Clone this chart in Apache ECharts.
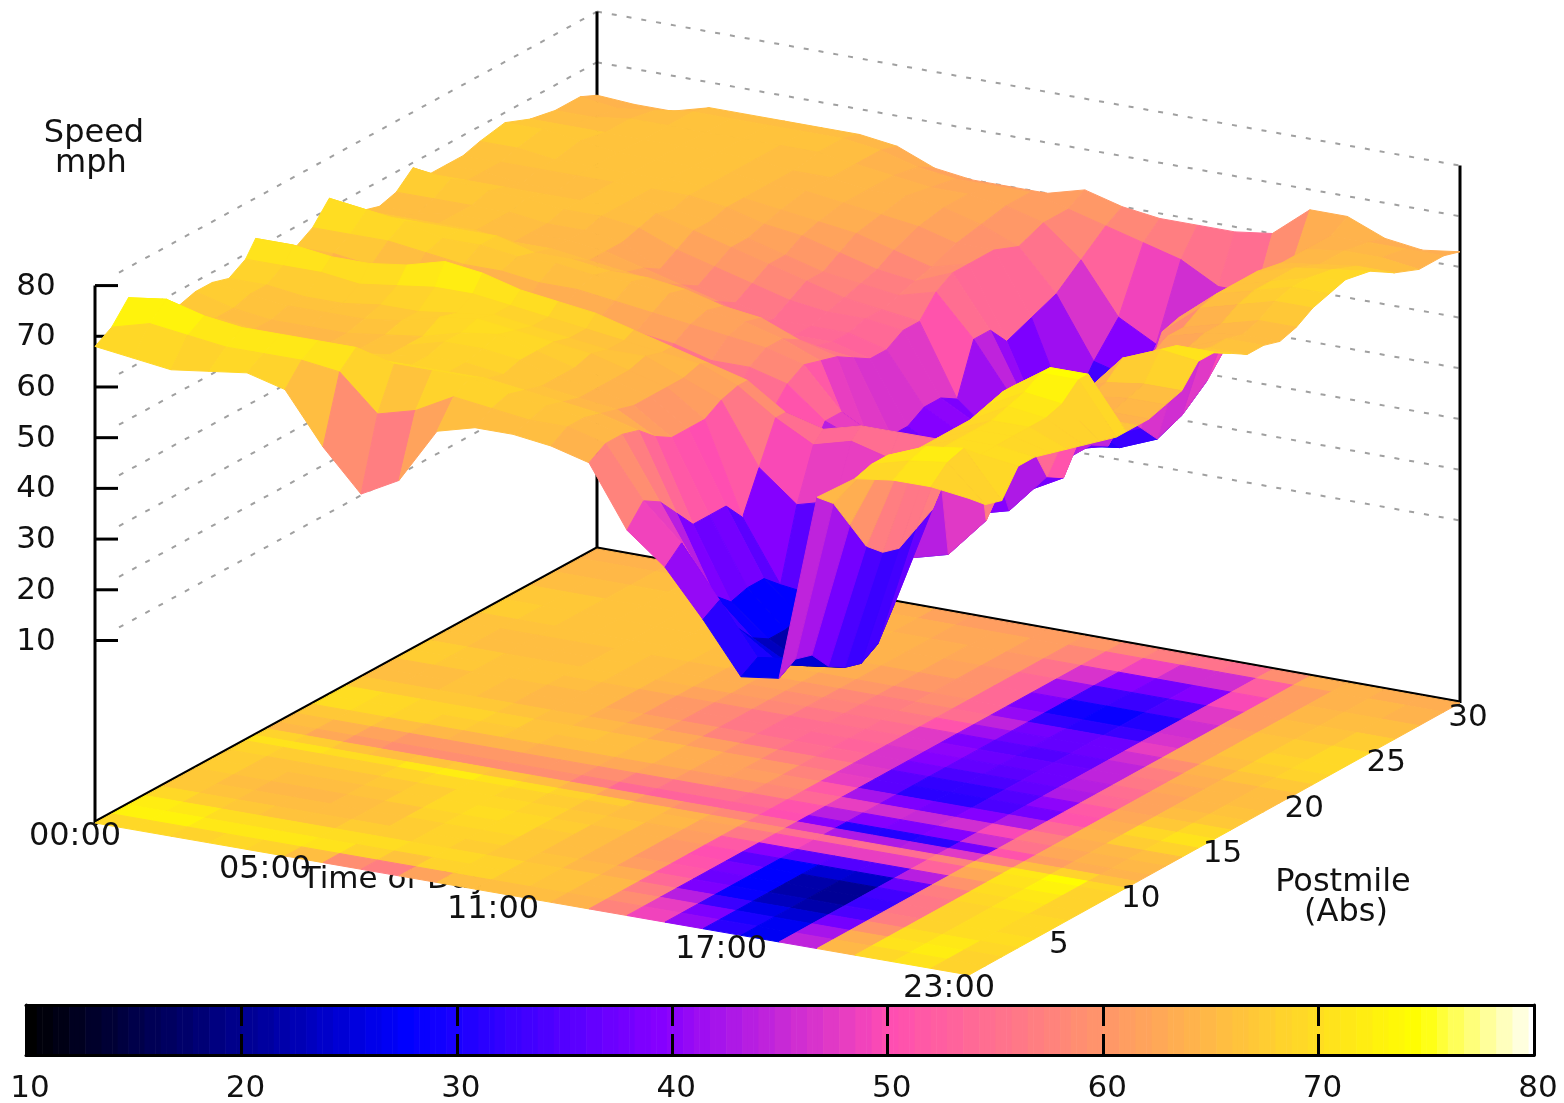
<!DOCTYPE html>
<html><head><meta charset="utf-8">
<style>html,body{margin:0;padding:0;background:#fff}#c{width:1564px;height:1103px}</style>
<script src="https://cdn.jsdelivr.net/npm/echarts@6/dist/echarts.min.js"></script>
</head><body><div id="c"></div>
<script>
const timeHours=[0,1,2,3,4,5,6,7,8,9,10,11,12,13,14,15,16,17,18,19,20,21,22,23];
const postmiles=[0,1,2,3,4,5,6,7,8,9,9.6,10.3,11,12,13,14,15,16,17,18,19,20,21,22,23,24.5,26,27.5,29,30];
const speeds=[
[68,67,66,67,68,66,56,48,52,63,65,65,64,62,50,44,35,25,26,63,68,69,69,68],
[70,72,71,70,70,70,69,62,64,68,67,66,66,64,54,47,37,27,28,60,69,71,72,65],
[74,75,73,72,72,72,72,70,70,70,68,67,66,64,52,40,30,25,27,54,69,72,73,64],
[70,70,68,67,67,68,68,68,68,68,67,66,65,63,48,33,26,22,23,48,67,70,70,69],
[68,67,66,66,65,66,67,68,68,67,66,65,64,60,44,30,24,20,21,45,67,70,70,69],
[67,66,65,65,65,66,67,69,69,68,66,65,63,58,44,31,24,19,20,44,67,70,70,68],
[68,66,65,65,65,66,67,69,70,68,66,65,63,58,44,31,25,20,22,46,67,70,70,67],
[68,67,66,66,66,67,69,70,69,68,67,65,63,58,40,28,27,26,28,48,67,71,70,66],
[67,67,66,66,67,67,68,69,68,67,66,66,63,60,48,42,44,42,44,54,68,72,71,65],
[69,69,69,68,69,70,70,69,68,67,66,65,64,61,56,52,54,52,54,60,69,74,74,64],
[72,72,71,71,72,74,73,71,70,69,67,65,63,61,56,54,56,56,56,60,69,74,74,64],
[65,64,62,60,60,60,60,60,60,56,54,54,54,54,50,30,30,30,32,40,58,62,64,64],
[66,64,60,58,58,58,58,58,58,54,52,52,53,52,44,32,31,30,34,46,60,63,64,64],
[66,66,65,63,62,62,62,62,62,61,60,58,58,56,50,47,47,46,48,54,62,64,65,65],
[68,68,68,67,66,66,65,65,64,63,62,61,60,58,50,46,44,44,46,50,62,65,66,66],
[72,71,70,68,68,67,67,66,66,65,63,62,60,57,40,33,30,32,34,42,60,68,71,70],
[68,68,68,68,68,66,66,65,65,64,62,61,58,56,38,31,30,33,36,40,60,66,70,70],
[66,66,66,66,65,65,64,63,62,60,58,56,55,54,40,34,32,33,38,46,60,64,67,68],
[65,65,66,66,65,65,64,62,60,58,55,54,54,52,40,36,34,36,38,48,60,64,66,66],
[66,66,66,66,65,65,64,60,58,56,54,54,54,52,42,38,36,36,38,50,60,63,66,66],
[69,68,67,67,66,66,65,62,60,58,56,55,55,54,42,38,36,36,38,52,62,64,65,65],
[66,66,66,66,66,66,66,64,62,60,58,56,55,54,40,34,33,34,36,50,62,64,66,66],
[66,66,65,65,66,66,65,64,62,60,58,57,56,58,50,40,40,38,40,58,64,66,68,68],
[66,66,66,66,66,66,66,65,63,62,60,58,57,60,50,36,34,33,36,59,65,67,69,69],
[67,67,66,66,66,66,66,65,64,63,62,60,58,60,46,30,28,29,32,58,65,67,69,70],
[68,68,67,66,66,66,66,65,65,64,63,62,60,60,48,30,29,28,34,58,65,67,68,69],
[66,66,66,66,66,66,66,65,65,64,64,63,61,58,50,38,36,36,38,58,64,65,66,66],
[65,65,66,66,66,66,66,66,65,64,63,63,62,60,54,44,40,40,44,58,64,65,65,64],
[65,64,65,66,66,66,66,66,65,63,62,62,62,60,58,56,54,50,50,58,64,64,64,64],
[63.5,63,63,65,65,65,65,65,64,61,60,60,60,62,60,59,59,59,60,66,66,63,62,63]
];
const zTicks=[10,20,30,40,50,60,70,80];
const timeTicks=[[0,'00:00'],[5,'05:00'],[11,'11:00'],[17,'17:00'],[23,'23:00']];
const postmileTicks=[5,10,15,20,25,30];

// view of the 3D box (screen plane units)
const FLOOR=-26, ZS=5.07, FONT='"DejaVu Sans"';
const CL=[95,823],CB=[597,549],CR=[1460,703],CF=[969,975];
function proj(t,p,z){
  const u=t/23,v=p/30;
  const x=(1-u)*(1-v)*CL[0]+u*(1-v)*CF[0]+u*v*CR[0]+(1-u)*v*CB[0];
  const y=(1-u)*(1-v)*CL[1]+u*(1-v)*CF[1]+u*v*CR[1]+(1-u)*v*CB[1];
  return [x,y-(z-FLOOR)*ZS];
}
function palette(v){
  const n=96; let x=Math.round((v-10)/70*n)/n;
  const c=a=>Math.round(255*Math.max(0,Math.min(1,a)));
  const r=x/0.32-0.78125;
  const g=2*x-0.84;
  let b; if(x<0.25)b=4*x; else if(x<0.42)b=1; else if(x<0.92)b=-2*x+1.84; else b=x/0.08-11.5;
  return 'rgb('+c(r)+','+c(g)+','+c(b)+')';
}
const cells=[];
for(let j=postmiles.length-2;j>=0;j--)for(let i=0;i<timeHours.length-1;i++)cells.push([i,j]);
function cellItem(flat){
  return function(params,api){
    const i=api.value(0),j=api.value(1);
    const corner=[[i,j],[i+1,j],[i+1,j+1],[i,j+1]];
    let sum=0;
    const pts=corner.map(c=>{
      const z=speeds[c[1]][c[0]]; sum+=z;
      return api.coord(proj(timeHours[c[0]],postmiles[c[1]],flat?FLOOR:z));
    });
    const col=palette(sum/4);
    return {type:'polygon',shape:{points:pts},style:{fill:col,stroke:col,lineWidth:1}};
  };
}
const scr={xAxisIndex:0,yAxisIndex:0,coordinateSystem:'cartesian2d',silent:true,animation:false};
function lineEl(api,a,b,style){
  const p=api.coord(a),q=api.coord(b);
  return {type:'line',shape:{x1:p[0],y1:p[1],x2:q[0],y2:q[1]},style:style};
}
const gridStyle={stroke:'#a0a0a0',lineWidth:2,lineDash:[5,10]};
const boxStyle={stroke:'#000',lineWidth:3};
const edgeStyle={stroke:'#000',lineWidth:5};
function textEl(api,pos,txt,size){
  const p=api.coord(pos);
  return {type:'text',x:p[0],y:p[1],style:{text:txt,fill:'#111',font:(size||31)+'px '+FONT,align:'center',verticalAlign:'middle'}};
}
const rampLevels=[];for(let v=10;v<80;v+=0.25)rampLevels.push(v);
const barAxis={gridIndex:1,type:'value',min:10,max:80,interval:10,z:6,
     axisLine:{show:true,onZero:false,lineStyle:{color:'#000',width:3}},
     axisTick:{show:true,inside:true,length:21,lineStyle:{color:'#000',width:3}},
     splitLine:{show:false}};
const option={
  backgroundColor:'#fff',animation:false,
  grid:[{left:0,top:0,width:1564,height:1103,show:false,outerBoundsMode:'none'},
        {left:26,top:1005,width:1508,height:50,show:false,outerBoundsMode:'none'}],
  xAxis:[{gridIndex:0,type:'value',min:0,max:1564,show:false},
    Object.assign({},barAxis,{position:'bottom',
     axisLabel:{color:'#111',fontSize:31,fontFamily:'DejaVu Sans',margin:18,padding:[0,0,0,8],showMinLabel:true,showMaxLabel:true,hideOverlap:false,alignMinLabel:'center',alignMaxLabel:'center'}}),
    Object.assign({},barAxis,{position:'top',axisLabel:{show:false}})],
  yAxis:[{gridIndex:0,type:'value',min:0,max:1103,inverse:true,show:false},
    {gridIndex:1,type:'value',min:0,max:1,z:6,
     axisLine:{show:true,onZero:false,lineStyle:{color:'#000',width:3}},axisTick:{show:false},splitLine:{show:false},axisLabel:{show:false}},
    {gridIndex:1,type:'value',min:0,max:1,z:6,position:'right',
     axisLine:{show:true,onZero:false,lineStyle:{color:'#000',width:3}},axisTick:{show:false},splitLine:{show:false},axisLabel:{show:false}}],
  series:[
   Object.assign({},scr,{type:'custom',z:1,data:zTicks.map(v=>[v]),encode:{x:0},
     renderItem:function(params,api){const z=api.value(0);return {type:'group',children:[
       lineEl(api,[CL[0]+24,proj(0,0,z)[1]-13],proj(0,30,z),gridStyle),
       lineEl(api,proj(0,30,z),proj(23,30,z),gridStyle)]};}}),
   Object.assign({},scr,{type:'custom',z:1,data:[[0]],encode:{x:0},
     renderItem:function(params,api){return {type:'group',children:[
       lineEl(api,proj(0,0,FLOOR),proj(0,0,80),boxStyle),
       lineEl(api,proj(0,30,FLOOR),proj(0,30,80),boxStyle),
       lineEl(api,proj(23,30,FLOOR),proj(23,30,80),boxStyle),
       lineEl(api,proj(0,0,FLOOR),proj(0,30,FLOOR),edgeStyle),
       lineEl(api,proj(0,30,FLOOR),proj(23,30,FLOOR),edgeStyle)]};}}),
   Object.assign({},scr,{type:'custom',z:1,data:zTicks.map(v=>[v]),encode:{x:0},
     renderItem:function(params,api){const z=api.value(0);const a=proj(0,0,z);
       return {type:'group',children:[lineEl(api,a,[a[0]+23,a[1]],boxStyle),
         textEl(api,[a[0]-59,a[1]+1],String(z))]};}}),
   Object.assign({},scr,{type:'custom',z:1,data:[[395,880]],encode:{x:0,y:1},
     renderItem:function(params,api){return textEl(api,[api.value(0),api.value(1)],'Time of Day',31);}}),
   Object.assign({},scr,{type:'custom',z:2,data:cells,encode:{x:0,y:1},renderItem:cellItem(true)}),
   Object.assign({},scr,{type:'custom',z:3,data:cells,encode:{x:0,y:1},renderItem:cellItem(false)}),
   Object.assign({},scr,{type:'custom',z:4,data:timeTicks.map(d=>[d[0]]),encode:{x:0},
     renderItem:function(params,api){const t=api.value(0);const a=proj(t,0,FLOOR);
       return textEl(api,[a[0]-20,a[1]+14],timeTicks[params.dataIndex][1],32);}}),
   Object.assign({},scr,{type:'custom',z:4,data:postmileTicks.map(v=>[v]),encode:{x:0},
     renderItem:function(params,api){const p=api.value(0);const a=proj(23,p,FLOOR);
       return textEl(api,[a[0]+8,a[1]+15],String(p));}}),
   Object.assign({},scr,{type:'custom',z:4,data:[[94,134],[91,164],[1343,883],[1346,913]],encode:{x:0,y:1},
     renderItem:function(params,api){return textEl(api,[api.value(0),api.value(1)],['Speed','mph','Postmile','(Abs)'][params.dataIndex],32);}}),
   {type:'custom',xAxisIndex:1,yAxisIndex:1,coordinateSystem:'cartesian2d',silent:true,animation:false,z:3,
    data:rampLevels.map(v=>[v]),encode:{x:0},
    renderItem:function(params,api){const v=api.value(0);
      const p=api.coord([v,1]),q=api.coord([v+0.25,0]);
      const col=palette(v);
      return {type:'rect',shape:{x:p[0],y:p[1],width:q[0]-p[0]+0.6,height:q[1]-p[1]},style:{fill:col}};}}
  ]
};
const chart=echarts.init(document.getElementById('c'),null,{renderer:'canvas',width:1564,height:1103});
chart.setOption(option);
</script></body></html>
